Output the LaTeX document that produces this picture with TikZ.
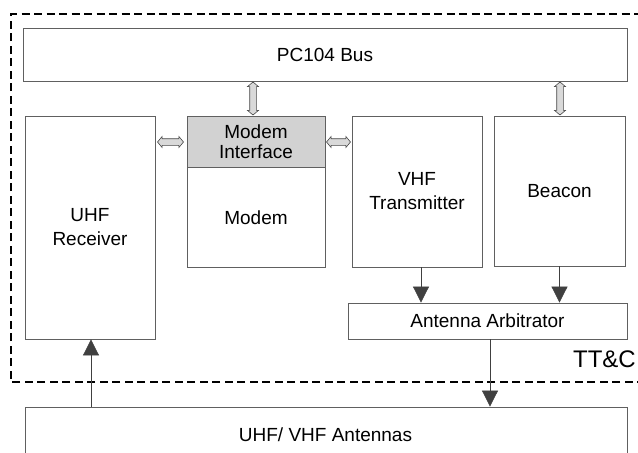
\documentclass[tikz,border=0pt]{standalone}
\usepackage{fontspec}
\setmainfont{Liberation Sans}
\usetikzlibrary{arrows.meta,shapes.arrows,calc}

\begin{document}
\begin{tikzpicture}[x=1pt,y=-1pt,
  block/.style={draw=gray!75!black, line width=0.8pt, fill=white, inner sep=0pt,
    align=center, font=\fontsize{19}{24}\selectfont},
  sig/.style={draw=black!75, line width=0.7pt, -{Triangle[length=16pt,width=16pt]}},
  bus/.style={double arrow, draw=gray!55!black, fill=gray!30, line width=0.6pt,
    inner xsep=0pt, inner ysep=3pt, minimum width=0pt, double arrow head extend=2.2pt,
    double arrow tip angle=100},
  frame/.style={draw=black, line width=1.4pt, dash pattern=on 8pt off 4.5pt}
]
\useasboundingbox (0,0) rectangle (638,453);

% TT&C subsystem boundary
\draw[frame] (645,382) -- (11,382) -- (11,14) -- (645,14);

% blocks
\node[block, minimum width=604pt, minimum height=53pt] (pc) at (325,54.5) {PC104 Bus};
\node[block, minimum width=130pt, minimum height=223pt] (uhf) at (90,227.5) {UHF\\Receiver};
\node[block, minimum width=138pt, minimum height=51pt, fill=gray!35,
  font=\fontsize{19}{20}\selectfont] (mif) at (256,141.5) {Modem\\Interface};
\node[block, minimum width=138pt, minimum height=100pt, anchor=north] (modem) at (mif.south) {Modem};
\node[block, minimum width=130pt, minimum height=151pt] (vhf) at (417,191.5) {VHF\\Transmitter};
\node[block, minimum width=131pt, minimum height=150pt] (beacon) at (559.5,191) {Beacon};
\node[block, minimum width=279pt, minimum height=36pt] (arb) at (487.5,321) {Antenna Arbitrator};
\node[block, minimum width=602pt, minimum height=60pt] (ant) at (326,437) {};
\node[font=\fontsize{19}{20}\selectfont] (antlabel) at (325.5,435) {UHF/ VHF Antennas};
\node[font=\fontsize{24}{26}\selectfont, anchor=east, inner sep=0pt] (ttc) at (636,359) {TT\&C};

% bus links
\node[bus, rotate=90, minimum height=33pt] (b1) at (253,98.5) {};
\node[bus, rotate=90, minimum height=33pt] (b2) at (560,98.5) {};
\node[bus, minimum height=26pt] (b3) at (170.5,142) {};
\node[bus, minimum height=24pt] (b4) at (338.5,142) {};

% signal paths
\draw[sig] ([xshift=4pt]vhf.south) -- ([xshift=4pt]vhf.south |- arb.north);
\draw[sig] (beacon.south) -- (beacon.south |- arb.north);
\draw[sig] ([xshift=2.5pt]arb.south) -- ([xshift=2.5pt]arb.south |- ant.north);
\draw[sig] ([xshift=1pt]uhf.south |- ant.north) -- ([xshift=1pt]uhf.south);
\end{tikzpicture}
\end{document}
